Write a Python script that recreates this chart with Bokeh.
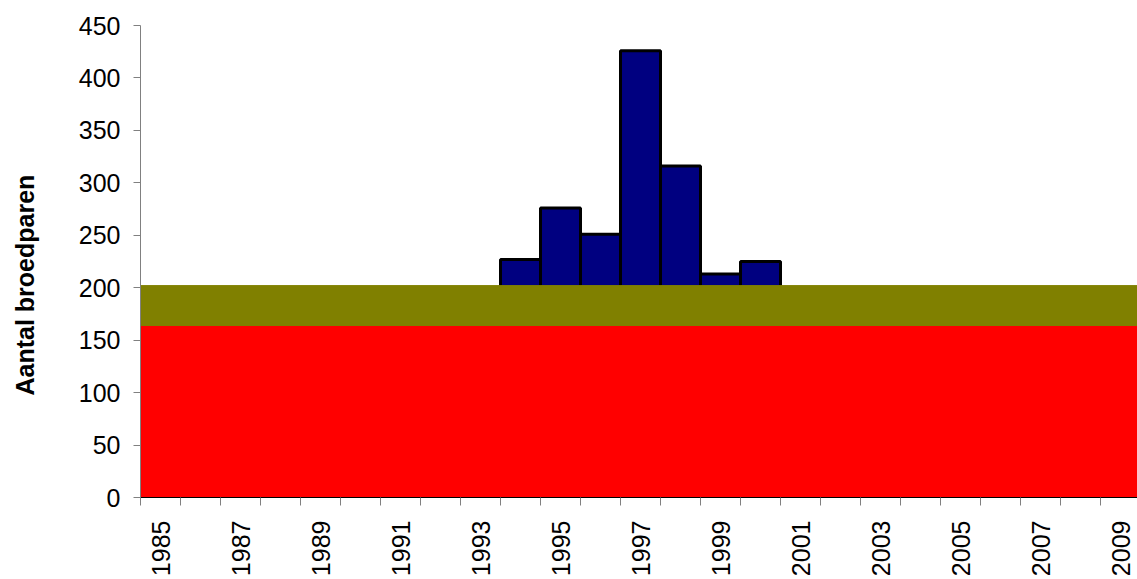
import math
from bokeh.plotting import figure
from bokeh.models import Range1d, FixedTicker, ColumnDataSource, Title
from bokeh.embed import file_html
from bokeh.resources import INLINE

# ---- data ----
years = [1985, 1986, 1987, 1988, 1989, 1990, 1991, 1992, 1993, 1994, 1995, 1996,
         1997, 1998, 1999, 2000, 2001, 2002, 2003, 2004, 2005, 2006, 2007, 2008, 2009]
red_band = [164, 164, 164, 164, 164, 164, 164, 164, 164, 164, 164, 164,
            164, 164, 164, 164, 164, 164, 164, 164, 164, 164, 164, 164, 164]
olive_band = [38, 38, 38, 38, 38, 38, 38, 38, 38, 38, 38, 38,
              38, 38, 38, 38, 38, 38, 38, 38, 38, 38, 38, 38, 38]
bar_years = [1994, 1995, 1996, 1997, 1998, 1999, 2000]
bar_values = [227, 276, 251, 426, 316, 213, 225]
label_years = [1985, 1987, 1989, 1991, 1993, 1995, 1997, 1999, 2001, 2003, 2005, 2007, 2009]
y_ticks = [0, 50, 100, 150, 200, 250, 300, 350, 400, 450]
y_title = "Aantal broedparen"

FONT = "Liberation Sans"

# the figure is 30px wider than the window and shifted 30px left, so the
# y-axis title can sit further left than the layout would otherwise allow
p = figure(width=1167, height=579,
           x_range=Range1d(years[0] - 0.5, 2009.425), y_range=Range1d(0, 450),
           output_backend="svg", toolbar_location=None,
           min_border_left=170, min_border_right=0, min_border_top=25, min_border_bottom=81)
p.margin = (0, 0, 0, -30)
p.xgrid.visible = False
p.ygrid.visible = False
p.outline_line_color = None
p.background_fill_color = "white"

bars = ColumnDataSource(dict(x=bar_years, top=bar_values))
p.vbar(x="x", top="top", bottom=0, width=1.0, source=bars,
       fill_color="#000080", line_color="black", line_width=3)

olive_bottom = red_band
olive_top = [r + o for r, o in zip(red_band, olive_band)]
bands = ColumnDataSource(dict(x=years, red=red_band, ob=olive_bottom, ot=olive_top))
p.vbar(x="x", top="red", bottom=0, width=1.0, source=bands,
       fill_color="#FF0000", line_color="#FF0000", line_width=1)
p.vbar(x="x", top="ot", bottom="ob", width=1.0, source=bands,
       fill_color="#808000", line_color="#808000", line_width=1)

# x axis
boundaries = [y - 0.5 for y in years] + [years[-1] + 0.5]
p.xaxis.ticker = FixedTicker(ticks=label_years, minor_ticks=boundaries)
p.xaxis.major_tick_out = 0
p.xaxis.major_tick_in = 0
p.xaxis.minor_tick_out = 8
p.xaxis.minor_tick_in = 0
p.xaxis.minor_tick_line_color = "#808080"
p.xaxis.minor_tick_line_width = 1
p.xaxis.axis_line_color = "black"
p.xaxis.axis_line_width = 1
p.xaxis.major_label_orientation = math.pi / 2
p.xaxis.major_label_standoff = 15
p.xaxis.major_label_text_font = FONT
p.xaxis.major_label_text_font_size = "25px"
p.xaxis.major_label_text_color = "black"

# y axis
p.yaxis.ticker = FixedTicker(ticks=y_ticks)
p.yaxis.axis_line_color = "#808080"
p.yaxis.major_tick_line_color = "#808080"
p.yaxis.major_tick_out = 7
p.yaxis.major_tick_in = 0
p.yaxis.minor_tick_line_color = None
p.yaxis.major_label_standoff = 13
p.yaxis.major_label_text_font = FONT
p.yaxis.major_label_text_font_size = "25px"
p.yaxis.major_label_text_color = "black"

# y-axis title, placed lower than the frame centre as in the reference
title = Title(text=y_title, align="left", vertical_align="top", offset=102, standoff=70,
              text_font=FONT, text_font_size="25px", text_font_style="bold",
              text_color="black")
p.add_layout(title, "left")

open("out.html", "w").write(file_html(p, INLINE))
